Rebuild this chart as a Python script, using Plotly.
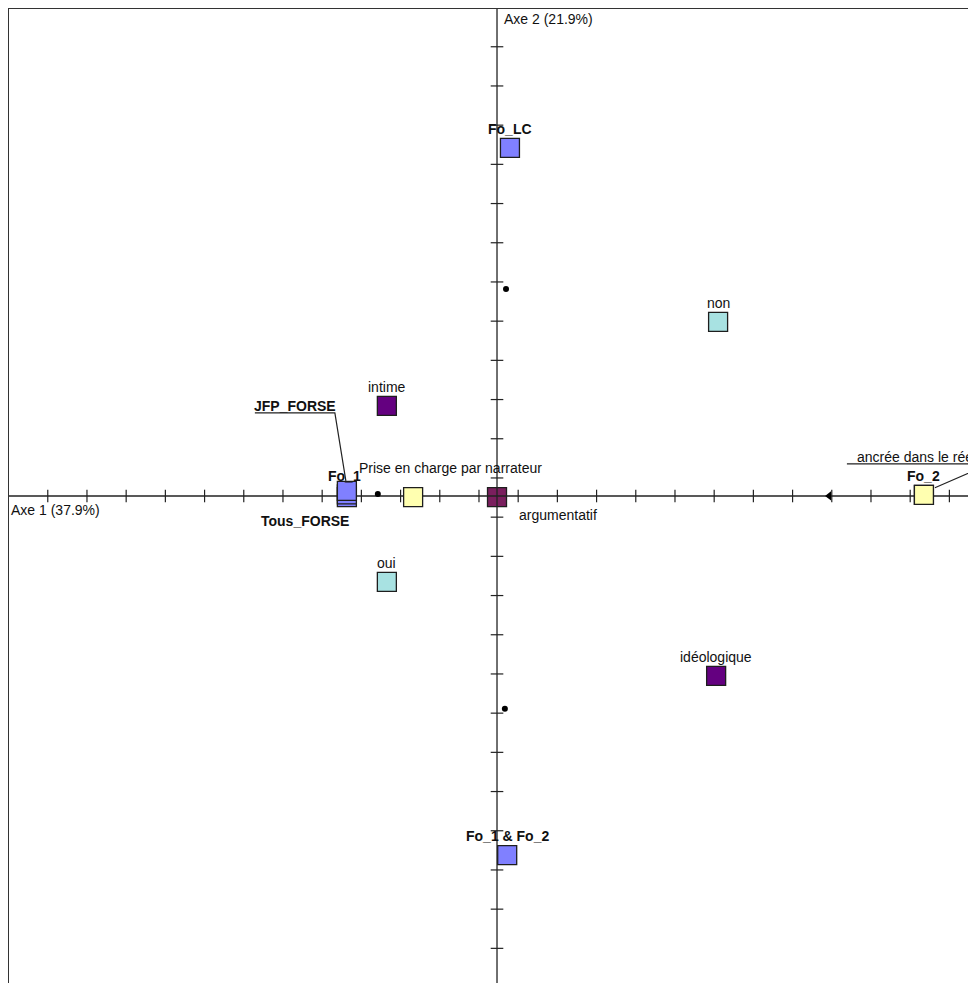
import plotly.graph_objects as go

# ---------------- data (axis-1, axis-2 coordinates) ----------------
# Categories of the illustrative variable (bold labels, blue squares)
fo_names = ["Tous_FORSE", "JFP_FORSE", "Fo_1", "Fo_LC", "Fo_2", "Fo_1 & Fo_2"]
fo_x = [-0.383, -0.383, -0.383, 0.033, 1.089, 0.026]
fo_y = [-0.003, 0.004, 0.013, 0.888, 0.003, -0.916]

# Active categories
cat_names = ["argumentatif", "Prise en charge par narrateur", "ancrée dans le réel",
             "intime", "idéologique", "non", "oui"]
cat_x = [0.000, -0.214, 1.089, -0.281, 0.559, 0.564, -0.281]
cat_y = [-0.003, -0.003, 0.003, 0.230, -0.459, 0.444, -0.219]
cat_group = ["maroon", "yellow", "yellow", "purple", "purple", "cyan", "cyan"]

# Small supplementary points
dot_x = [-0.304, 0.023, 0.020]
dot_y = [0.005, 0.528, -0.543]
tri_x = [0.847]
tri_y = [0.000]

# Axis tick positions
x_ticks = [-1.146, -1.046, -0.946, -0.846, -0.746, -0.646, -0.546, -0.446, -0.346, -0.246,
           -0.146, -0.046, 0.054, 0.154, 0.254, 0.354, 0.454, 0.554, 0.654, 0.754,
           0.854, 0.954, 1.054, 1.154]
y_ticks = [1.146, 1.046, 0.946, 0.846, 0.746, 0.646, 0.546, 0.446, 0.346, 0.246,
           0.146, 0.046, -0.054, -0.154, -0.254, -0.354, -0.454, -0.554, -0.654, -0.754,
           -0.854, -0.954, -1.054, -1.154]

axis1_title = "Axe 1 (37.9%)"
axis2_title = "Axe 2 (21.9%)"

# ---------------- styling ----------------
X_RANGE = [-1.2449, 1.2423]
Y_RANGE = [-1.2628, 1.2423]
COLORS = {"maroon": "#7a1f5e", "yellow": "#ffffb0", "purple": "#640080", "cyan": "#a8e2e2",
          "blue": "#8080ff"}
FONT = "Liberation Sans, Arial, sans-serif"
FS = 14
SQ = 19
AXC = "#222222"
OUTLINE = dict(color="#1e1e1e", width=1.3)

fig = go.Figure()

def squares(xs, ys, colors, name):
    fig.add_trace(go.Scatter(x=xs, y=ys, mode="markers", name=name, hoverinfo="skip",
                             marker=dict(symbol="square", size=SQ, color=colors, line=OUTLINE)))

# argumentatif first: the axes are drawn over it
squares([cat_x[0]], [cat_y[0]], [COLORS[cat_group[0]]], "argumentatif")

# axis lines through the origin
fig.add_trace(go.Scatter(x=X_RANGE, y=[0, 0], mode="lines", hoverinfo="skip",
                         line=dict(color=AXC, width=1.3)))
fig.add_trace(go.Scatter(x=[0, 0], y=Y_RANGE, mode="lines", hoverinfo="skip",
                         line=dict(color=AXC, width=1.3)))
# tick marks crossing the axes
fig.add_trace(go.Scatter(x=x_ticks, y=[0] * len(x_ticks), mode="markers", hoverinfo="skip",
                         marker=dict(symbol="line-ns-open", size=9, color=AXC,
                                     line=dict(color=AXC, width=1.2))))
fig.add_trace(go.Scatter(x=[0] * len(y_ticks), y=y_ticks, mode="markers", hoverinfo="skip",
                         marker=dict(symbol="line-ew-open", size=9, color=AXC,
                                     line=dict(color=AXC, width=1.2))))

# supplementary points
fig.add_trace(go.Scatter(x=dot_x, y=dot_y, mode="markers", hoverinfo="skip",
                         marker=dict(symbol="circle", size=6, color="#000000")))
fig.add_trace(go.Scatter(x=tri_x, y=tri_y, mode="markers", hoverinfo="skip",
                         marker=dict(symbol="triangle-left", size=8, color="#000000")))

# blue (illustrative) squares
squares(fo_x, fo_y, [COLORS["blue"]] * len(fo_x), "Fo")
# other active categories
squares(cat_x[1:], cat_y[1:], [COLORS[g] for g in cat_group[1:]], "cat")

# ---------------- labels ----------------
# pixel offsets of label centres relative to their point (up positive)
default_off = (0, 19)
label_off = {
    "Tous_FORSE": (-42, -24),
    "JFP_FORSE": (-52, 88),
    "Fo_1": (-2, 15),
    "Prise en charge par narrateur": (37, 29),
}
annotations = []
for n, x, y in zip(fo_names, fo_x, fo_y):
    dx, dy = label_off.get(n, default_off)
    annotations.append(dict(x=x, y=y, xref="x", yref="y", text=f"<b>{n}</b>", showarrow=False,
                            xshift=dx, yshift=dy, xanchor="center", yanchor="middle",
                            font=dict(family=FONT, size=FS, color="#111111")))
for n, x, y in zip(cat_names, cat_x, cat_y):
    if n == "ancrée dans le réel":
        annotations.append(dict(x=x, y=y, xref="x", yref="y", text=n, showarrow=False,
                                xshift=-69, yshift=38, xanchor="left", yanchor="middle",
                                font=dict(family=FONT, size=FS, color="#111111")))
        continue
    if n == "argumentatif":
        annotations.append(dict(x=x, y=y, xref="x", yref="y", text=n, showarrow=False,
                                xshift=20, yshift=-18, xanchor="left", yanchor="middle",
                                font=dict(family=FONT, size=FS, color="#111111")))
        continue
    dx, dy = label_off.get(n, default_off)
    annotations.append(dict(x=x, y=y, xref="x", yref="y", text=n, showarrow=False,
                            xshift=dx, yshift=dy, xanchor="center", yanchor="middle",
                            font=dict(family=FONT, size=FS, color="#111111")))

annotations.append(dict(x=0, y=0, xref="paper", yref="y", text=axis1_title, showarrow=False,
                        xshift=0, yshift=-14, xanchor="left", yanchor="middle",
                        font=dict(family=FONT, size=FS, color="#111111")))
annotations.append(dict(x=0, y=1, xref="x", yref="paper", text=axis2_title, showarrow=False,
                        xshift=5, yshift=0, xanchor="left", yanchor="top",
                        font=dict(family=FONT, size=FS, color="#111111")))

# leader lines (pixel paths anchored on the points)
shapes = [
    dict(type="path", xref="x", yref="y", xsizemode="pixel", ysizemode="pixel",
         xanchor=fo_x[1], yanchor=fo_y[1], path="M-92,81.5 L-12,81.5 L-1,13.5",
         line=dict(color=AXC, width=1.2)),
    dict(type="path", xref="x", yref="y", xsizemode="pixel", ysizemode="pixel",
         xanchor=cat_x[2], yanchor=cat_y[2], path="M-77,31 L66,31 L11,7",
         line=dict(color=AXC, width=1.2)),
]

fig.update_layout(
    width=976, height=983,
    margin=dict(l=1, r=0, t=1, b=0),
    paper_bgcolor="white", plot_bgcolor="white",
    showlegend=False,
    annotations=annotations,
    shapes=shapes,
    xaxis=dict(range=X_RANGE, showgrid=False, zeroline=False, showticklabels=False, ticks="",
               showline=True, side="top", linecolor="#333333", linewidth=1.3, fixedrange=True),
    yaxis=dict(range=Y_RANGE, showgrid=False, zeroline=False, showticklabels=False, ticks="",
               showline=True, side="left", linecolor="#333333", linewidth=1.3, fixedrange=True),
)

fig.write_html("out.html", config={"displayModeBar": False})
